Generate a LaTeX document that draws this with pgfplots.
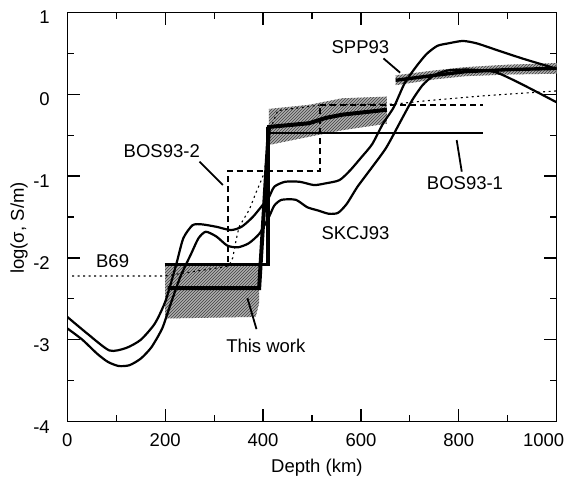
\documentclass[border=0pt]{standalone}
\usepackage{pgfplots}
\pgfplotsset{compat=1.18}
\usepackage{fontspec}
\setmainfont{Liberation Sans}
\usetikzlibrary{patterns}

\begin{document}
\begin{tikzpicture}
\useasboundingbox (-67.3pt,-67.3pt) rectangle (499.7pt,421.7pt);
\begin{axis}[
  scale only axis, width=489.4pt, height=409.4pt,
  xmin=0, xmax=1000, ymin=-4, ymax=1,
  axis line style={line width=1.2pt},
  xtick={0,200,400,600,800}, xticklabels={0,200,400,600,800},
  extra x ticks={1000}, extra x tick labels={1000},
  extra x tick style={xticklabel style={xshift=-13pt}},
  minor xtick={100,300,500,700,900},
  ytick={-4,-3,-2,-1,0,1}, yticklabels={-4,-3,-2,-1,0,1},
  minor ytick={-3.5,-2.5,-1.5,-0.5,0.5},
  tick align=inside,
  major tick length=13pt, minor tick length=7pt,
  every tick/.style={black, line width=1.2pt},
  tick label style={font=\fontsize{18.5}{22}\selectfont},
  xticklabel style={yshift=-8pt},
  yticklabel style={xshift=-14pt, yshift=-5pt},
  xlabel={Depth (km)}, ylabel={log(σ, S/m)},
  label style={font=\fontsize{18.5}{22}\selectfont},
  xlabel style={at={(axis description cs:0.51,-0.113)}, anchor=center},
  ylabel style={at={(axis description cs:-0.0987,0.473)}, anchor=center},
  band/.style={fill=black!32, postaction={pattern=north east lines, pattern color=black!75}, draw=none},
]
% uncertainty bands
\addplot[band] coordinates {
  (200,-2.08) (392,-2.08) (392,-2.55) (385,-2.72) (200,-2.74)} -- cycle;
\addplot[band] coordinates {
  (412,-0.18) (494,-0.13) (562,-0.05) (653,-0.03) (653,-0.36)
  (562,-0.44) (494,-0.52) (412,-0.62)} -- cycle;
\addplot[band] coordinates {
  (671,0.23) (750,0.29) (813,0.33) (900,0.36) (1000,0.38)
  (1000,0.25) (900,0.24) (813,0.22) (750,0.18) (671,0.11)} -- cycle;

% SKCJ93 bounds
\addplot[black, line width=2.2pt, smooth, tension=0.4] coordinates {
  (0,-2.72) (40,-2.92) (86,-3.13) (120,-3.1) (150,-3.0) (179,-2.8) (201,-2.52)
  (223,-2.07) (237,-1.76) (256,-1.6) (275,-1.59) (305,-1.62) (334,-1.66)
  (356,-1.62) (379,-1.5) (401,-1.34) (412,-1.26) (423,-1.13) (445,-1.07)
  (475,-1.07) (504,-1.11) (527,-1.09) (556,-1.05) (578,-0.93) (601,-0.77)
  (623,-0.61) (645,-0.36) (667,-0.16) (689,0.13) (712,0.33) (734,0.49)
  (756,0.59) (778,0.62) (808,0.65) (837,0.62) (882,0.53) (933,0.43) (1000,0.31)};
\addplot[black, line width=2.2pt, smooth, tension=0.4] coordinates {
  (0,-2.86) (31,-3.0) (61,-3.17) (83,-3.27) (105,-3.32) (127,-3.31) (150,-3.23)
  (172,-3.09) (194,-2.86) (209,-2.6) (231,-2.23) (253,-1.95) (268,-1.76)
  (283,-1.68) (305,-1.74) (327,-1.85) (349,-1.87) (371,-1.82) (393,-1.70)
  (412,-1.50) (423,-1.36) (438,-1.29) (467,-1.29) (490,-1.38) (512,-1.42)
  (534,-1.46) (553,-1.45) (571,-1.34) (593,-1.13) (623,-0.89) (652,-0.65)
  (682,-0.32) (704,-0.08) (726,0.11) (749,0.23) (778,0.29) (822,0.30)
  (874,0.27) (926,0.13) (1000,-0.10)};

% B69
\addplot[black, line width=1.1pt, dash pattern=on 2pt off 3.5pt] coordinates {
  (10,-2.22) (200,-2.22) (330,-2.1) (338,-2.0) (345,-1.78) (351,-1.62)
  (372,-1.41) (385,-1.21) (395,-1.07) (403,-0.95) (410,-0.5) (430,-0.2)
  (520,-0.13) (670,-0.12) (734,-0.08) (850,-0.02) (1000,0.04)};

% BOS93-2
\addplot[black, line width=2pt, dash pattern=on 6pt off 4pt] coordinates {
  (327.5,-2.05) (327.5,-0.94) (516,-0.94) (516,-0.13) (850,-0.13)};
% BOS93-1
\addplot[black, line width=2pt] coordinates {(412,-0.48) (850,-0.48)};

% this work
\addplot[black, line width=4pt] coordinates {
  (205,-2.37) (392,-2.37) (412,-0.40) (494,-0.355) (528,-0.29) (562,-0.25) (653,-0.19)};
\addplot[black, line width=3.4pt] coordinates {
  (199,-2.08) (410,-2.08) (410,-0.40)};
% SPP93
\addplot[black, line width=3.4pt] coordinates {
  (671,0.17) (750,0.23) (813,0.275) (900,0.30) (1000,0.315)};

% annotations
\begin{scope}[every node/.style={font=\fontsize{18.5}{22}\selectfont, inner sep=0pt}]
\node at (axis cs:599,0.58) {SPP93};
\draw[line width=1.8pt] (axis cs:646,0.437) -- (axis cs:680,0.263);
\node at (axis cs:812.6,-1.09) {BOS93-1};
\draw[line width=1.8pt] (axis cs:795.6,-0.56) -- (axis cs:806,-0.946);
\node at (axis cs:193,-0.70) {BOS93-2};
\draw[line width=1.8pt] (axis cs:270,-0.824) -- (axis cs:317.7,-1.109);
\node at (axis cs:588.8,-1.70) {SKCJ93};
\node at (axis cs:92.6,-2.045) {B69};
\node at (axis cs:405.7,-3.08) {This work};
\draw[line width=1.8pt] (axis cs:368,-2.49) -- (axis cs:386.6,-2.87);
\end{scope}
\end{axis}
\end{tikzpicture}
\end{document}
